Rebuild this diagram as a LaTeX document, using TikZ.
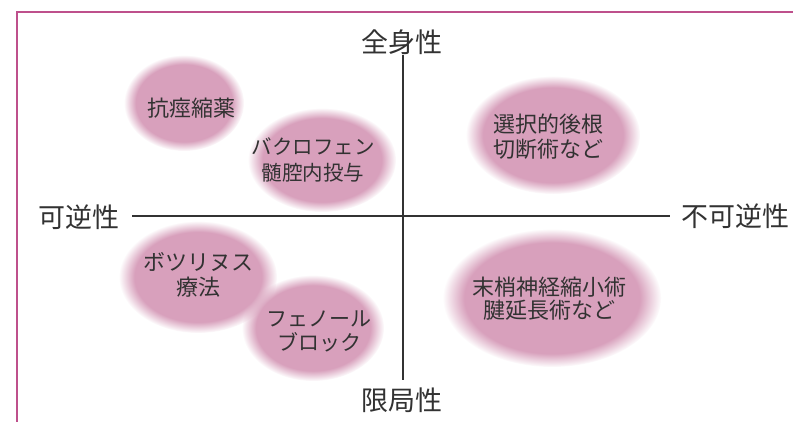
\documentclass[tikz,border=0pt]{standalone}
\usepackage{fontspec}
\setmainfont{Noto Sans CJK JP}
\usetikzlibrary{fadings}
\definecolor{blobpink}{RGB}{216,160,188}
\definecolor{framepink}{RGB}{190,80,140}
\definecolor{txt}{RGB}{50,50,50}
\tikzset{
  blob/.style={fill=blobpink, path fading=circle with fuzzy edge 20 percent},
  lbl/.style={text=txt, font=\fontsize{22}{25}\selectfont, align=center, inner sep=0pt},
  axlbl/.style={text=txt, font=\fontsize{27}{30}\selectfont, inner sep=0pt},
  axis/.style={draw=txt, line width=1.4pt}
}
\begin{document}
\begin{tikzpicture}[x=1pt,y=-1pt]
\useasboundingbox (0,0) rectangle (793,422);
\fill[white] (0,0) rectangle (793,422);
% frame
\draw[framepink, line width=1.8pt] (17,422) -- (17,12) -- (793,12);
% blobs
\fill[blob] (184,103) ellipse (60 and 48);
\fill[blob] (322,160) ellipse (74 and 52);
\fill[blob] (553,135) ellipse (87 and 59);
\fill[blob] (198,277) ellipse (79 and 56);
\fill[blob] (313,328) ellipse (71 and 53);
\fill[blob] (552,298) ellipse (109 and 69);
% axes
\coordinate (vt) at (403,55);
\coordinate (vb) at (403,380);
\coordinate (hl) at (132,216);
\coordinate (hr) at (670,216);
\draw[axis] (vt) -- (vb);
\draw[axis] (hl) -- (hr);
\node[axlbl] (top) at (402,42) {全身性};
\node[axlbl] (bot) at (402,400) {限局性};
\node[axlbl] (lft) at (79,217) {可逆性};
\node[axlbl] (rgt) at (735,216) {不可逆性};
% labels
\node[lbl] (a) at (191,108) {抗痙縮薬};
\node[lbl, font=\fontsize{20.5}{26}\selectfont] (b) at (313,160) {バクロフェン\\髄腔内投与};
\node[lbl] (c) at (548,137) {選択的後根\\切断術など};
\node[lbl] (d) at (198,275) {ボツリヌス\\療法};
\node[lbl, font=\fontsize{21}{24}\selectfont] (e) at (319,331) {フェノール\\ブロック};
\node[lbl, font=\fontsize{22}{23}\selectfont] (f) at (549,299) {末梢神経縮小術\\腱延長術など};
\end{tikzpicture}
\end{document}
